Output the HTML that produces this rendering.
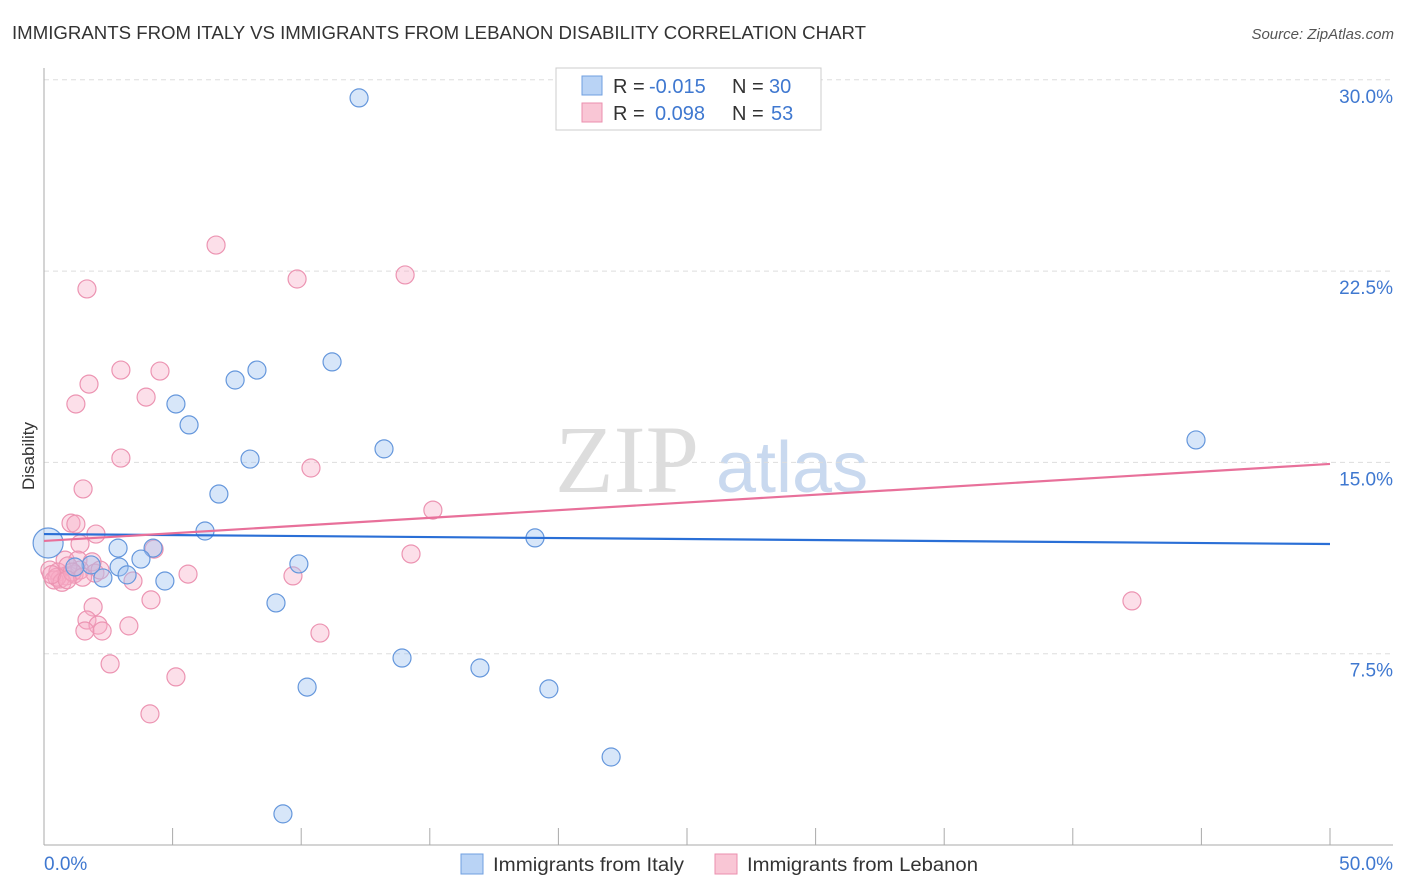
<!DOCTYPE html>
<html><head><meta charset="utf-8"><style>
body{margin:0;background:#fff;font-family:"Liberation Sans",sans-serif;}
#wrap{position:relative;width:1406px;height:892px;overflow:hidden;}
</style></head><body>
<div id="wrap">
<svg id="svg" width="1406" height="892" xmlns="http://www.w3.org/2000/svg">
<text x="12" y="39" font-size="18" fill="#333" textLength="854" lengthAdjust="spacingAndGlyphs">IMMIGRANTS FROM ITALY VS IMMIGRANTS FROM LEBANON DISABILITY CORRELATION CHART</text>
<text x="1394" y="39" font-size="15" fill="#555" font-style="italic" text-anchor="end">Source: ZipAtlas.com</text>
<text x="34" y="456" font-size="17" fill="#333" text-anchor="middle" transform="rotate(-90 34 456)">Disability</text>
<text x="555" y="492" font-size="96" fill="#ddd" font-family="Liberation Serif,serif">ZIP</text>
<text x="716" y="492" font-size="72" fill="#c9d9ef">atlas</text>
<g id="grid"></g><g id="marks"></g><g id="lines"></g>
<rect x="556" y="68" width="265" height="62" fill="#fff" stroke="#ccc"/>
<rect x="582" y="76" width="20" height="19" fill="#b9d3f5" stroke="#6f9fe0"/>
<rect x="582" y="103" width="20" height="19" fill="#f9c6d5" stroke="#eb8fae"/>
<text x="613" y="93" font-size="20" fill="#333">R = <tspan x="649" fill="#3f78d0">-0.015</tspan><tspan x="732">N = </tspan><tspan x="769" fill="#3f78d0">30</tspan></text>
<text x="613" y="120" font-size="20" fill="#333">R = <tspan x="655" fill="#3f78d0">0.098</tspan><tspan x="732">N = </tspan><tspan x="771" fill="#3f78d0">53</tspan></text>
<rect x="461" y="854" width="22" height="20" fill="#b9d3f5" stroke="#6f9fe0"/>
<text x="493" y="871" font-size="19" fill="#333" textLength="191" lengthAdjust="spacingAndGlyphs">Immigrants from Italy</text>
<rect x="715" y="854" width="22" height="20" fill="#f9c6d5" stroke="#eb8fae"/>
<text x="747" y="871" font-size="19" fill="#333" textLength="231" lengthAdjust="spacingAndGlyphs">Immigrants from Lebanon</text>
</svg>
</div>
<script>
const italyX=[12.25,11.2,8.28,7.43,5.13,5.64,44.79,13.22,8.01,6.80,6.26,19.09,2.88,4.24,3.77,1.83,2.92,9.91,3.23,2.29,4.70,9.02,13.92,16.95,10.23,19.63,22.05,9.29,1.2];
const italyY=[29.29,18.94,18.62,18.23,17.29,16.47,15.88,15.53,15.13,13.76,12.31,12.04,11.64,11.64,11.21,10.98,10.90,11.02,10.59,10.47,10.35,9.49,7.33,6.94,6.19,6.12,3.45,1.22,10.9];
const lebX=[6.69,9.84,14.04,1.67,2.99,4.51,1.75,3.97,1.24,2.99,10.38,1.52,15.12,1.05,1.24,2.02,1.40,4.28,14.27,0.82,1.32,1.87,0.23,0.54,0.86,1.17,0.62,0.39,1.40,1.98,2.18,5.60,9.68,3.46,4.16,1.91,42.30,1.67,2.10,1.59,2.26,3.30,10.73,2.57,5.13,4.12,0.93,0.5,0.7,1.1,0.3,1.5,0.9];
const lebY=[23.52,22.19,22.35,21.80,18.62,18.58,18.07,17.56,17.29,15.17,14.78,13.96,13.13,12.62,12.58,12.19,11.80,11.60,11.41,11.17,11.17,11.10,10.78,10.70,10.55,10.62,10.43,10.39,10.78,10.66,10.78,10.62,10.55,10.35,9.61,9.33,9.57,8.82,8.62,8.39,8.39,8.59,8.31,7.10,6.59,5.14,10.94,10.5,10.3,10.7,10.6,10.5,10.4];
const italyBig=[[0.16,11.84]];
const trendX=[0,50];
const italyTrend=[12.19,11.80];
const lebTrend=[11.92,14.94];
const yTicks=[7.5,15,22.5,30];
const yTickLabels=["7.5%","15.0%","22.5%","30.0%"];
const xTicks=[0,5,10,15,20,25,30,35,40,45,50];
const NS="http://www.w3.org/2000/svg";
const sx=v=>44+v/50*1286;
const sy=v=>845-v/7.5*191.3;
function mk(tag,attrs,parent){const e=document.createElementNS(NS,tag);for(const k in attrs)e.setAttribute(k,attrs[k]);parent.appendChild(e);return e;}
const grid=document.getElementById('grid'),marks=document.getElementById('marks'),lines=document.getElementById('lines');
yTicks.forEach((t,i)=>{
 const l=mk('line',{x1:44,x2:1393,y1:sy(t),y2:sy(t),stroke:'#ddd','stroke-dasharray':'5,4'},grid);
 
 
 const tx=mk('text',{x:1393,y:sy(t)+23,'font-size':19,fill:'#3f78d0','text-anchor':'end'},grid);
 tx.textContent=yTickLabels[i];
 
 
});
const ax=mk('line',{x1:44,x2:44,y1:68,y2:845,stroke:'#aaa'},grid);


const bx=mk('line',{x1:44,x2:1393,y1:845,y2:845,stroke:'#aaa'},grid);


xTicks.forEach(t=>{
 const l=mk('line',{x1:sx(t),x2:sx(t),y1:828,y2:845,stroke:'#aaa'},grid);
 
 
});
const xl0=mk('text',{x:44,y:870,'font-size':19,fill:'#3f78d0'},grid);xl0.textContent=xTicks[0].toFixed(1)+'%';


const xl1=mk('text',{x:1393,y:870,'font-size':19,fill:'#3f78d0','text-anchor':'end'},grid);xl1.textContent=xTicks[xTicks.length-1].toFixed(1)+'%';


lebX.forEach((x,i)=>{
 const c=mk('circle',{cx:sx(x),cy:sy(lebY[i]),r:9,fill:'rgba(246,170,196,0.38)',stroke:'#ec94b2','stroke-width':1.2},marks);
 
 
});
italyX.forEach((x,i)=>{
 const c=mk('circle',{cx:sx(x),cy:sy(italyY[i]),r:9,fill:'rgba(160,196,240,0.42)',stroke:'#6597dc','stroke-width':1.2},marks);
 
 
});
italyBig.forEach(p=>{
 const c=mk('circle',{cx:sx(p[0]),cy:sy(p[1]),r:15,fill:'rgba(160,196,240,0.42)',stroke:'#6597dc','stroke-width':1.2},marks);
 
 
});
const t1=mk('line',{x1:sx(trendX[0]),x2:sx(trendX[1]),y1:sy(italyTrend[0]),y2:sy(italyTrend[1]),stroke:'#2a6fd6','stroke-width':2.2},lines);


const t2=mk('line',{x1:sx(trendX[0]),x2:sx(trendX[1]),y1:sy(lebTrend[0]),y2:sy(lebTrend[1]),stroke:'#e8709a','stroke-width':2.2},lines);


</script>
</body></html>
